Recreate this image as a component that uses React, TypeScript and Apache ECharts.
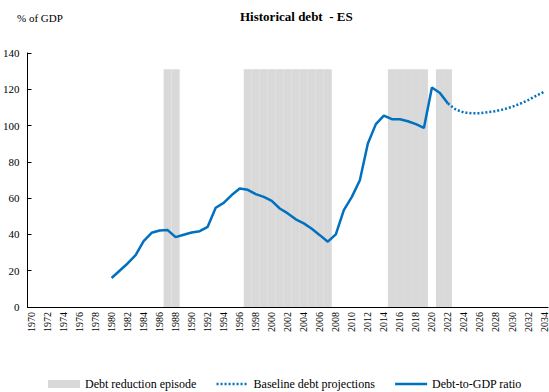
import React, { useEffect, useRef } from "react";
import * as echarts from "echarts";

const years: string[] = Array.from({ length: 65 }, (_, i) => String(1970 + i));

const debtStartYear = 1980;
const debtValues = [
  16, 20, 24, 28.6, 36.3, 40.9, 42.2, 42.4, 38.5, 39.8,
  41.1, 41.8, 44.2, 54.7, 57.4, 61.7, 65.3, 64.6, 62.2, 60.7,
  58.5, 54.3, 51.6, 48.3, 46.1, 43.1, 39.6, 36, 40, 53.4,
  60.7, 69.9, 90.1, 100.8, 105.5, 103.5, 103.5, 102.4, 100.8, 98.7,
  121, 118, 112.1,
];

const projStartYear = 2022;
const projValues = [112.1, 108.8, 107.2, 106.8, 106.8, 107.4, 108, 109, 110.3, 112, 114, 116.4, 118.6];

const episodes: [number, number][] = [
  [1987, 1988],
  [1997, 2007],
  [2015, 2019],
  [2021, 2022],
];
const episodeHeight = 131;

const yTicks = { min: 0, max: 140, interval: 20 };

const SERIF = "serif";
const BLUE = "#0070C0";

function seriesFrom(start: number, vals: number[]): (number | null)[] {
  return years.map((y) => {
    const idx = Number(y) - start;
    return idx >= 0 && idx < vals.length ? vals[idx] : null;
  });
}

export default function App() {
  const ref = useRef<HTMLDivElement>(null);
  useEffect(() => {
    if (!ref.current) return;
    const chart = echarts.init(ref.current, undefined, { renderer: "svg" });
    const episodeData = years.map((y) => {
      const yr = Number(y);
      return episodes.some(([a, b]) => yr >= a && yr <= b) ? episodeHeight : null;
    });
    chart.setOption({
      animation: false,
      textStyle: { fontFamily: SERIF },
      grid: { left: 24.5, right: -2, top: 53, bottom: 85, containLabel: false },
      graphic: [
        {
          type: "text",
          left: 240,
          top: 10,
          style: { text: "Historical debt  - ES", font: `bold 13px "Liberation Serif", serif`, fill: "#000" },
        },
        {
          type: "text",
          left: 17,
          top: 12,
          style: { text: "% of GDP", font: `11px "Liberation Serif", serif`, fill: "#000" },
        },
      ],
      legend: {
        left: 48,
        top: 378,
        padding: 0,
        itemWidth: 32,
        itemHeight: 8,
        itemGap: 19,
        textStyle: { fontFamily: SERIF, fontSize: 12, color: "#000" },
        data: [
          { name: "Debt reduction episode", icon: "rect" },
          {
            name: "Baseline debt projections",
            itemStyle: { opacity: 0 },
            lineStyle: { color: BLUE, width: 2.5, type: [2, 2] },
          },
          {
            name: "Debt-to-GDP ratio",
            itemStyle: { opacity: 0 },
            lineStyle: { color: BLUE, width: 2.5 },
          },
        ],
      },
      xAxis: {
        type: "category",
        data: years,
        boundaryGap: true,
        axisLine: { lineStyle: { color: "#000", width: 1 } },
        axisTick: { inside: true, length: 4, interval: 0, lineStyle: { color: "#000" } },
        axisLabel: {
          interval: 1,
          rotate: 90,
          fontFamily: SERIF,
          fontSize: 10,
          color: "#000",
          margin: 5,
        },
        splitLine: { show: false },
      },
      yAxis: {
        type: "value",
        min: yTicks.min,
        max: yTicks.max,
        interval: yTicks.interval,
        axisLine: { show: true, lineStyle: { color: "#000", width: 1 } },
        axisTick: { show: true, inside: true, length: 4, lineStyle: { color: "#000" } },
        axisLabel: { fontFamily: SERIF, fontSize: 11, color: "#000", margin: 8 },
        splitLine: { show: false },
      },
      series: [
        {
          name: "Debt reduction episode",
          type: "bar",
          data: episodeData,
          barWidth: "100%",
          barCategoryGap: 0,
          itemStyle: { color: "#d9d9d9" },
          z: 1,
        },
        {
          name: "Baseline debt projections",
          type: "line",
          data: seriesFrom(projStartYear, projValues),
          symbol: "none",
          lineStyle: { color: BLUE, width: 2.5, type: [2, 2] },
          itemStyle: { color: BLUE },
          z: 3,
        },
        {
          name: "Debt-to-GDP ratio",
          type: "line",
          data: seriesFrom(debtStartYear, debtValues),
          symbol: "none",
          lineStyle: { color: BLUE, width: 2.5 },
          itemStyle: { color: BLUE },
          z: 4,
        },
      ],
    });
    return () => chart.dispose();
  }, []);
  return (
    <div
      ref={ref}
      style={{ position: "fixed", left: 0, top: 0, width: 549, height: 392, background: "#fff" }}
    />
  );
}
